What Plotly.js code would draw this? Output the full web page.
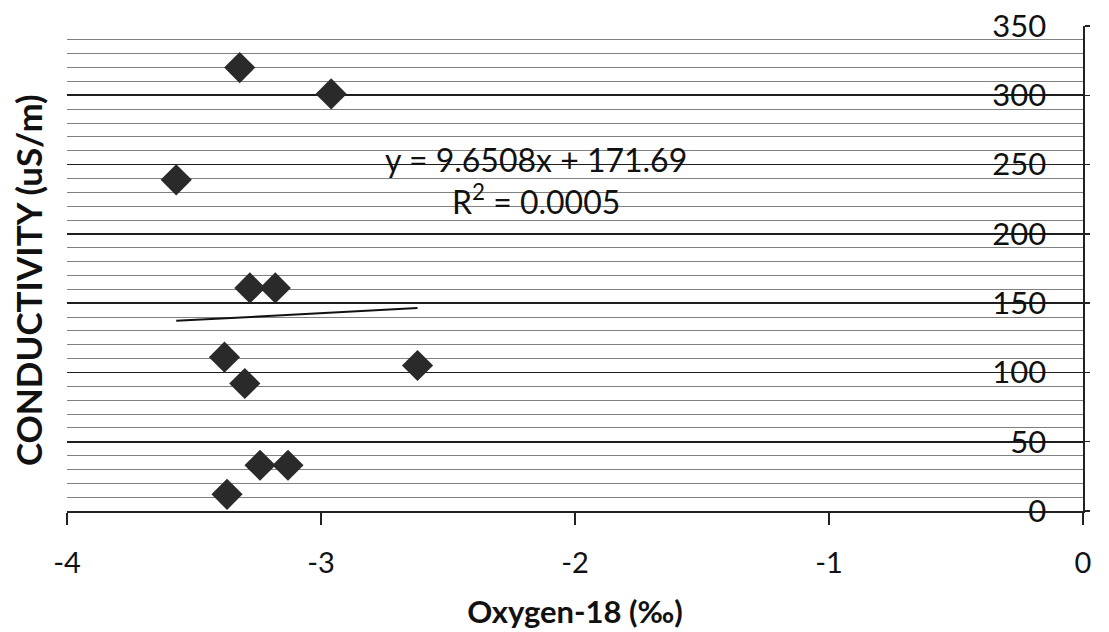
<!DOCTYPE html>
<html>
<head>
<meta charset="utf-8">
<script src="https://cdn.plot.ly/plotly-3.0.1.min.js"></script>
<style>html,body{margin:0;padding:0;background:#fff;}#chart{width:1109px;height:632px;}</style>
</head>
<body>
<div id="chart"></div>
<script>
// Data
const oxygen18 = [-3.32, -2.96, -3.57, -3.28, -3.18, -3.38, -3.30, -2.62, -3.24, -3.13, -3.37];
const conductivity = [320, 301, 239, 161, 161, 111, 92, 105, 33, 33, 12];
const trendSlope = 9.6508;
const trendIntercept = 171.69;
const xTickVals = [-4, -3, -2, -1, 0];
const yTickVals = [0, 50, 100, 150, 200, 250, 300, 350];
const equationText = "y = 9.6508x + 171.69<br>R<sup>2</sup> = 0.0005";

const xMin = Math.min(...oxygen18), xMax = Math.max(...oxygen18);
const trendX = [xMin, xMax];
const trendY = trendX.map(v => trendSlope * v + trendIntercept);

const font = "Lato, 'Open Sans', sans-serif";

const data = [
  {
    x: oxygen18, y: conductivity, type: 'scatter', mode: 'markers',
    marker: {symbol: 'diamond', size: 24, color: '#2a2a2a', line: {width: 0}},
    showlegend: false, hoverinfo: 'x+y'
  },
  {
    x: trendX, y: trendY, type: 'scatter', mode: 'lines',
    line: {color: '#111', width: 2}, showlegend: false, hoverinfo: 'skip'
  }
];

const layout = {
  width: 1109, height: 632,
  margin: {l: 67, r: 26, t: 26, b: 121},
  paper_bgcolor: '#fff', plot_bgcolor: '#fff',
  font: {family: font, color: '#111'},
  xaxis: {
    range: [-4, 0], tickvals: xTickVals, ticktext: xTickVals.map(String),
    showgrid: false, zeroline: false,
    showline: true, linecolor: '#222', linewidth: 1.5,
    ticks: 'outside', ticklen: 12, tickwidth: 1.5, tickcolor: '#222',
    tickfont: {size: 29, family: font, color: '#111'},
    ticklabelstandoff: 14, ticklabeloverflow: 'allow',
    title: {text: 'Oxygen-18 (‰)', font: {size: 31, family: font, weight: 'bold', color: '#111'}, standoff: 23}
  },
  yaxis: {
    range: [0, 350], side: 'right', tickvals: yTickVals, ticktext: yTickVals.map(String),
    ticklabelposition: 'inside', ticklabelstandoff: 40, ticklabeloverflow: 'allow',
    showgrid: true, gridcolor: '#1e1e1e', gridwidth: 1.6,
    minor: {dtick: 10, showgrid: true, gridcolor: '#808080', gridwidth: 1},
    zeroline: false, showline: true, linecolor: '#222', linewidth: 1.5,
    ticks: 'outside', ticklen: 5, tickwidth: 1.5, tickcolor: '#222',
    tickfont: {size: 31, family: font, color: '#111'}
  },
  annotations: [
    {
      xref: 'paper', yref: 'paper', x: 0.4616, y: 0.682, xanchor: 'center', yanchor: 'middle',
      text: equationText, showarrow: false, align: 'center',
      font: {size: 32, family: font, color: '#111'}, bgcolor: 'rgba(0,0,0,0)'
    },
    {
      xref: 'paper', yref: 'paper', x: -0.039, y: 0.477, xanchor: 'center', yanchor: 'middle',
      text: 'CONDUCTIVITY (uS/m)', textangle: -90, showarrow: false,
      font: {size: 35, family: font, weight: 'bold', color: '#111'}
    }
  ]
};

Plotly.newPlot('chart', data, layout, {displayModeBar: false, staticPlot: true});
</script>
</body>
</html>
